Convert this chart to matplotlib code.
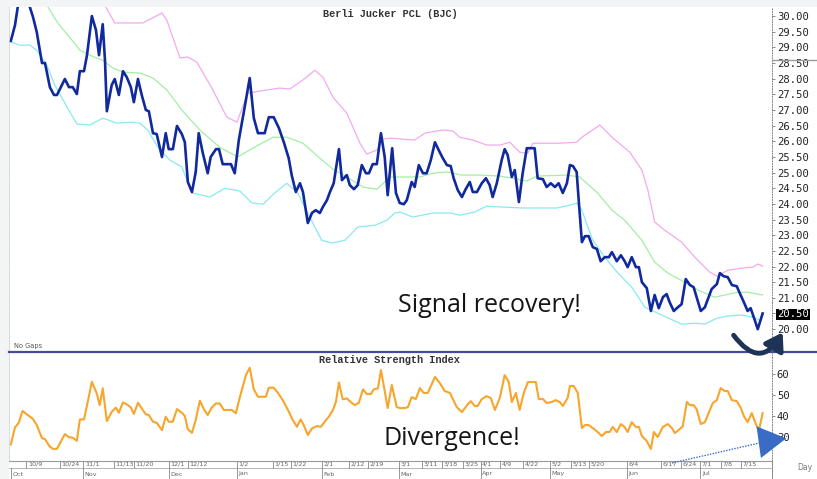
import matplotlib.pyplot as plt
import matplotlib.transforms as mtransforms
from matplotlib.lines import Line2D
from matplotlib.patches import Rectangle, FancyArrowPatch, ArrowStyle

# bar number (trading session) and close price
price_s = [0.0, 1.1, 2.1, 4.5, 5.9, 6.9, 8.3, 9.1, 10.4, 11.5, 12.3, 14.4, 15.5, 16.5, 17.6, 18.4,
           19.5, 20.3, 21.6, 22.7, 23.5, 24.5, 25.1, 25.6, 26.9, 27.7, 28.8, 29.9, 30.9, 32.0, 32.8,
           33.9, 34.9, 36.0, 36.8, 37.9, 38.9, 40.3, 41.3, 42.1, 43.2, 44.3, 45.6, 46.4, 47.2, 48.3,
           49.3, 50.1, 51.2, 52.5, 53.3, 54.7, 55.5, 56.5, 57.6, 58.7, 59.7, 60.8, 62.4, 63.7, 64.8,
           65.9, 67.7, 68.8, 70.1, 71.5, 72.8, 74.1, 74.9, 76.0, 77.1, 77.9, 79.2, 80.3, 81.3, 82.4,
           83.2, 84.3, 85.1, 86.1, 87.5, 88.3, 89.6, 90.4, 91.5, 92.5, 93.6, 94.7, 95.5, 96.5, 97.6,
           98.7, 99.7, 100.5, 101.7, 102.7, 103.7, 104.8, 105.6, 106.9, 107.7, 108.8, 109.9, 110.9,
           112.0, 113.1, 114.1, 115.2, 116.3, 117.3, 118.1, 119.2, 120.3, 121.3, 122.4, 123.2, 124.3,
           125.6, 126.7, 127.7, 128.5, 129.6, 130.9, 131.7, 132.5, 133.6, 134.4, 135.5, 136.5, 137.6,
           139.7, 140.5, 141.9, 142.9, 144.0, 145.1, 146.1, 147.2, 148.3, 149.1, 149.9, 150.9, 151.5,
           152.3, 153.1, 154.1, 155.2, 156.3, 157.3, 158.4, 159.5, 160.3, 161.6, 162.7, 163.7, 164.5,
           165.6, 166.7, 167.5, 168.3, 169.6, 170.7, 171.7, 172.8, 173.9, 174.9, 175.7, 176.8, 177.9,
           178.9, 180.0, 181.1, 182.1, 184.0, 185.1, 185.9, 186.9, 188.3, 189.1, 190.1, 191.2, 192.3,
           193.6, 194.4, 195.5, 196.5, 197.3, 198.4, 199.2, 200.5]
price_v = [29.21, 29.71, 30.5, 30.5, 29.97, 29.49, 28.50, 28.50, 27.73, 27.48, 27.48, 27.99, 27.73,
           27.73, 27.51, 28.24, 28.24, 28.75, 30.0, 29.55, 28.75, 29.74, 28.59, 26.96, 27.80, 27.99,
           27.48, 28.24, 28.05, 27.73, 27.25, 27.99, 27.48, 27.0, 26.96, 26.26, 26.23, 25.50, 26.26,
           25.75, 25.75, 26.49, 26.23, 25.97, 24.70, 24.38, 25.02, 26.26, 25.62, 24.98, 25.50, 25.75,
           25.75, 25.27, 25.27, 25.27, 24.98, 26.04, 27.12, 28.02, 26.74, 26.26, 26.26, 26.77, 26.77,
           26.42, 25.97, 25.46, 24.92, 24.38, 24.66, 24.38, 23.39, 23.71, 23.80, 23.71, 23.90, 24.12,
           24.38, 24.66, 25.75, 24.76, 24.92, 24.60, 24.47, 24.60, 25.24, 24.98, 24.98, 25.27, 25.27,
           26.26, 25.50, 24.28, 25.78, 24.35, 24.03, 23.99, 24.12, 24.70, 24.54, 25.24, 24.98, 24.98,
           25.40, 25.97, 25.72, 25.46, 25.24, 25.21, 24.82, 24.44, 24.22, 24.47, 24.70, 24.38, 24.38,
           24.66, 24.82, 24.60, 24.22, 24.66, 25.40, 25.75, 25.56, 24.86, 25.08, 24.06, 24.98, 25.78,
           25.78, 24.82, 24.79, 24.54, 24.66, 24.54, 24.66, 24.35, 24.66, 25.24, 25.21, 25.02, 24.03,
           22.78, 22.97, 22.97, 22.62, 22.56, 22.17, 22.30, 22.30, 22.46, 22.17, 22.36, 22.17, 21.98,
           22.30, 21.98, 21.98, 21.50, 21.31, 20.58, 21.09, 20.67, 21.02, 21.12, 20.86, 20.58, 20.70,
           20.80, 21.60, 21.41, 21.34, 20.58, 20.70, 20.96, 21.28, 21.44, 21.79, 21.69, 21.66, 21.41,
           21.37, 21.15, 20.86, 20.58, 20.67, 20.29, 20.00, 20.50]

# bollinger bands
upper_s = [23.7, 25.3, 27.7, 35.2, 40.3, 41.6, 45.1, 47.2, 49.6, 53.6, 57.6, 60.3, 63.2, 68.3, 71.7,
           74.4, 77.9, 81.1, 83.2, 85.9, 89.6, 93.1, 94.9, 97.6, 99.2, 101.1, 107.7, 110.4, 115.2,
           117.9, 119.7, 123.2, 126.9, 130.4, 133.1, 135.7, 137.9, 139.2, 146.4, 150.9, 152.3, 157.1,
           160.3, 165.1, 168.3, 169.9, 171.7, 174.4, 178.9, 182.4, 186.4, 188.3, 191.2, 194.9, 197.9,
           199.2, 200.5]
upper_v = [30.67, 30.29, 29.78, 29.78, 30.10, 29.87, 28.66, 28.69, 28.53, 27.70, 26.77, 26.61, 27.54,
           27.64, 27.70, 27.67, 27.96, 28.27, 28.05, 27.41, 26.90, 25.94, 25.59, 25.72, 26.07, 26.10,
           26.04, 26.26, 26.36, 26.33, 26.13, 26.04, 25.88, 25.88, 25.97, 25.65, 25.62, 25.94, 25.94,
           25.97, 26.13, 26.52, 26.13, 25.65, 25.08, 24.44, 23.42, 23.16, 22.78, 22.30, 21.82, 21.69,
           21.88, 21.95, 21.98, 22.08, 22.01]
mid_s = [7.7, 9.9, 12.5, 16.3, 18.4, 21.6, 24.5, 27.2, 29.9, 34.4, 37.9, 41.6, 45.6, 50.4, 55.7, 60.5,
         64.5, 69.9, 73.6, 77.9, 82.4, 85.9, 89.6, 93.9, 97.6, 101.1, 109.1, 112.5, 116.3, 120.3,
         125.1, 130.4, 133.9, 137.6, 140.3, 148.3, 151.7, 156.5, 160.3, 163.7, 168.3, 171.7, 175.2,
         179.7, 183.2, 187.7, 190.4, 193.9, 196.5, 200.5]
mid_v = [30.67, 30.29, 29.78, 29.23, 28.91, 28.72, 28.59, 28.34, 28.21, 28.18, 28.02, 27.64, 27.00,
         26.36, 25.81, 25.50, 25.78, 26.13, 26.13, 25.94, 25.46, 25.11, 24.86, 24.54, 24.47, 24.86,
         24.86, 24.98, 25.02, 24.92, 24.92, 24.89, 24.82, 24.73, 24.89, 24.92, 24.86, 24.35, 23.80,
         23.48, 22.84, 22.14, 21.79, 21.50, 21.25, 21.02, 21.09, 21.18, 21.18, 21.09]
lower_s = [0.0, 2.4, 5.1, 6.9, 9.6, 11.7, 14.4, 17.6, 21.1, 24.5, 28.3, 32.3, 34.4, 36.5, 39.2, 42.4,
           45.6, 48.3, 53.1, 57.1, 61.1, 64.3, 67.2, 70.4, 73.6, 76.5, 79.7, 82.9, 85.6, 89.1, 92.5,
           97.1, 100.3, 102.4, 103.7, 107.2, 112.5, 117.1, 119.7, 123.7, 126.9, 131.2, 136.5, 145.6,
           149.1, 150.9, 152.3, 153.9, 155.2, 158.4, 161.9, 165.6, 169.1, 173.6, 178.9, 182.4, 185.1,
           188.3, 191.2, 194.9, 197.9, 199.7]
lower_v = [29.17, 29.07, 29.07, 28.91, 28.43, 27.80, 27.22, 26.55, 26.52, 26.74, 26.58, 26.61, 26.58,
           26.36, 25.81, 25.40, 25.18, 24.35, 24.22, 24.50, 24.41, 24.03, 23.99, 24.35, 24.66, 24.35,
           23.58, 22.84, 22.75, 22.84, 23.26, 23.32, 23.48, 23.71, 23.74, 23.58, 23.71, 23.71, 23.64,
           23.74, 23.93, 23.90, 23.87, 23.87, 23.96, 24.03, 23.80, 23.26, 22.84, 22.30, 21.79, 21.34,
           20.70, 20.45, 20.16, 20.19, 20.16, 20.35, 20.42, 20.45, 20.38, 20.29]

# relative strength index
rsi_s = [0.0, 1.1, 2.1, 3.1, 4.5, 5.9, 6.9, 8.3, 9.1, 10.4, 11.2, 12.3, 14.4, 15.5, 16.5, 17.6, 18.4,
         19.5, 20.5, 21.6, 22.9, 23.7, 24.5, 25.6, 26.9, 28.0, 28.8, 29.9, 30.9, 32.0, 32.8, 33.9,
         34.9, 36.0, 36.8, 37.9, 38.9, 40.3, 41.3, 42.1, 43.2, 44.3, 45.6, 46.4, 47.2, 48.3, 49.3,
         50.4, 51.5, 52.5, 53.6, 54.7, 55.7, 56.8, 57.9, 58.9, 60.0, 61.1, 62.7, 63.7, 64.8, 65.9,
         68.0, 68.8, 70.1, 71.2, 72.5, 73.9, 75.2, 76.3, 77.3, 78.1, 79.2, 80.3, 81.6, 82.7, 83.7,
         84.8, 85.9, 86.7, 87.5, 88.5, 89.6, 90.9, 91.7, 92.8, 93.9, 94.9, 96.0, 96.8, 97.9, 98.7,
         99.5, 100.5, 101.6, 102.9, 103.7, 105.1, 105.9, 106.9, 108.0, 109.1, 110.1, 111.2, 113.1,
         114.4, 115.7, 117.1, 118.9, 120.3, 121.9, 122.7, 123.7, 124.5, 125.6, 126.9, 128.0, 129.1,
         130.4, 131.7, 132.8, 133.6, 134.7, 135.7, 136.8, 137.9, 140.0, 140.8, 141.9, 142.9, 144.3,
         145.3, 146.4, 147.2, 148.5, 149.1, 150.1, 151.2, 152.3, 153.1, 154.1, 155.2, 156.5, 157.6,
         158.7, 159.7, 160.5, 161.6, 162.7, 163.7, 164.5, 165.6, 166.7, 167.5, 168.3, 169.6, 170.7,
         171.5, 172.5, 173.9, 175.2, 176.3, 177.1, 178.1, 179.2, 180.3, 181.1, 182.1, 182.9, 184.0,
         185.1, 186.1, 187.2, 188.3, 189.3, 190.4, 191.2, 192.3, 193.6, 194.7, 195.5, 196.5, 197.6,
         198.7, 199.5, 200.5]
rsi_v = [26.5, 34.6, 36.8, 42.4, 40.5, 38.6, 35.7, 29.5, 29.0, 25.4, 24.4, 24.4, 31.4, 29.9, 29.7,
         28.2, 38.4, 38.4, 46.8, 56.3, 50.8, 45.2, 53.2, 37.6, 42.0, 44.0, 41.6, 46.5, 45.6, 44.1,
         41.0, 46.3, 43.7, 40.8, 40.5, 37.3, 36.8, 33.3, 39.7, 37.3, 37.3, 43.3, 41.6, 40.0, 33.7,
         32.0, 38.1, 47.3, 43.2, 40.5, 44.1, 46.0, 46.0, 42.9, 42.9, 42.9, 41.3, 49.2, 59.5, 63.0,
         52.7, 49.2, 49.2, 53.5, 53.5, 51.1, 47.6, 42.9, 38.1, 34.9, 38.4, 35.7, 31.0, 34.1, 35.2,
         34.9, 37.3, 39.7, 42.9, 46.8, 56.0, 48.0, 48.4, 46.3, 45.2, 46.3, 52.7, 50.5, 50.5, 52.7,
         53.2, 61.9, 54.0, 43.8, 54.8, 44.3, 43.8, 43.8, 44.3, 49.0, 48.1, 53.3, 51.0, 51.0, 58.6,
         55.7, 51.9, 51.0, 44.3, 41.9, 45.7, 47.1, 44.8, 44.8, 48.1, 49.5, 48.6, 42.9, 48.6, 59.5,
         56.2, 46.7, 51.0, 42.9, 51.0, 56.2, 56.2, 48.1, 48.1, 46.2, 46.7, 47.6, 46.7, 44.8, 48.6,
         54.3, 54.3, 51.0, 34.3, 35.7, 35.7, 34.3, 32.4, 30.5, 32.4, 32.4, 34.8, 32.4, 36.2, 34.8,
         32.4, 37.1, 34.8, 34.8, 30.5, 28.1, 24.3, 32.4, 30.0, 34.8, 36.2, 34.3, 31.9, 33.3, 35.2,
         46.7, 45.2, 45.2, 43.3, 36.2, 37.1, 41.4, 46.2, 47.6, 53.3, 51.9, 51.9, 47.6, 47.1, 43.8,
         40.0, 37.1, 41.4, 36.2, 32.9, 41.4]

price_ticks = [20.0, 20.5, 21.0, 21.5, 22.0, 22.5, 23.0, 23.5, 24.0, 24.5, 25.0, 25.5, 26.0, 26.5,
               27.0, 27.5, 28.0, 28.5, 29.0, 29.5, 30.0]
rsi_ticks = [30, 40, 50, 60]
last_price = 20.50

day_ticks = [4.1, 13.1, 19.3, 27.5, 32.8, 42.1, 47.3, 60.3, 69.8, 74.7, 82.9, 90.2, 95.3, 103.6,
             109.7, 115.0, 120.6, 125.3, 130.4, 136.6, 143.7, 149.5, 154.2, 164.2, 173.3, 178.7,
             183.9, 189.5, 194.8]
day_labels = ['10/9', '10/24', '11/1', '11/13', '11/20', '12/1', '12/12', '1/2', '1/15', '1/22',
              '2/1', '2/12', '2/19', '3/1', '3/11', '3/18', '3/25', '4/1', '4/9', '4/22', '5/2',
              '5/13', '5/20', '6/4', '6/17', '6/24', '7/1', '7/8', '7/15']
month_ticks = [0.0, 19.3, 42.1, 60.3, 82.9, 103.6, 125.3, 143.7, 164.2, 183.9]
month_labels = ['Oct', 'Nov', 'Dec', 'Jan', 'Feb', 'Mar', 'Apr', 'May', 'Jun', 'Jul']

W, H = 817, 479


def fx(px):
    return px / W


def fy(py):
    return 1 - py / H


fig = plt.figure(figsize=(8.17, 4.79), dpi=100)
fig.patch.set_facecolor('white')
fig.add_artist(Rectangle((0, fy(7)), 1, 1 - fy(7), transform=fig.transFigure,
                         facecolor='#f3f4f6', edgecolor='none', zorder=0))
fig.add_artist(Rectangle((0, 0), fx(9), 1, transform=fig.transFigure,
                         facecolor='#f3f4f6', edgecolor='none', zorder=0))

ax1 = fig.add_axes([fx(9), fy(352), fx(772) - fx(9), fy(7) - fy(352)])
ax2 = fig.add_axes([fx(9), fy(461), fx(772) - fx(9), fy(352) - fy(461)])

ax1.plot(upper_s, upper_v, color='#f3a9ef', lw=0.9)
ax1.plot(mid_s, mid_v, color='#a3efa3', lw=0.9)
ax1.plot(lower_s, lower_v, color='#8ae8f2', lw=0.9)
ax1.plot(price_s, price_v, color='#10299c', lw=1.9, solid_joinstyle='round')
ax1.set_xlim(-0.5, 203)
ax1.set_ylim(19.27, 30.29)

ax2.plot(rsi_s, rsi_v, color='#f7a52b', lw=1.5, solid_joinstyle='round')
ax2.set_xlim(-0.5, 203)
ax2.set_ylim(18.6, 70.5)

for ax, ticks, fmt in [(ax1, price_ticks, '%.2f'), (ax2, rsi_ticks, '%d')]:
    ax.set_facecolor('none')
    ax.set_xticks([])
    ax.yaxis.tick_right()
    ax.set_yticks(ticks)
    ax.set_yticklabels([fmt % t for t in ticks])
    ax.tick_params(axis='y', length=2, width=0.6, color='#777', labelsize=7.6, pad=1.5,
                   labelcolor='#222', labelfontfamily='DejaVu Sans Mono')
    ax.spines['top'].set_visible(False)
    ax.spines['left'].set_linestyle(':')
    ax.spines['left'].set_color('#c8c8c8')
    ax.spines['left'].set_linewidth(0.6)
    ax.spines['right'].set_linestyle(':')
    ax.spines['right'].set_color('#888')
    ax.spines['right'].set_linewidth(0.7)
ax1.spines['bottom'].set_visible(False)
ax2.spines['bottom'].set_color('#9a9a9a')
ax2.spines['bottom'].set_linewidth(0.8)

for lbl in ax1.get_yticklabels():
    if lbl.get_text() == '%.2f' % last_price:
        lbl.set_color('white')
        lbl.set_bbox(dict(facecolor='black', edgecolor='none', pad=0.6))

# panel separator and small frame pieces
fig.add_artist(Line2D([fx(9), 1], [fy(352), fy(352)], color='#464b9b', lw=1.6))
fig.add_artist(Line2D([fx(772), fx(772)], [fy(461), 0], color='#888', lw=0.7))
fig.add_artist(Line2D([fx(9), fx(772)], [fy(468), fy(468)], color='#aaaaaa', lw=0.6))
fig.add_artist(Line2D([fx(773), 1], [fy(59.5), fy(59.5)], color='#9a9a9a', lw=1.0))

fig.text(fx(390), fy(14), 'Berli Jucker PCL (BJC)', ha='center', va='center',
         family='Liberation Mono', weight='bold', size=7.4, color='#333')
fig.text(fx(389), fy(360), 'Relative Strength Index', ha='center', va='center',
         family='Liberation Mono', weight='bold', size=7.4, color='#333')
fig.text(fx(14), fy(346), 'No Gaps', ha='left', va='center', size=4.8, color='#555')
fig.text(fx(805), fy(467), 'Day', ha='center', va='center', size=5.5, color='#777')

# date axis under the RSI panel
blend = mtransforms.blended_transform_factory(ax2.transData, fig.transFigure)
lab_tr = mtransforms.offset_copy(blend, fig=fig, x=1.5, y=0, units='dots')
for s, lab in zip(day_ticks, day_labels):
    fig.add_artist(Line2D([s, s], [fy(461), fy(468)], transform=blend, color='#888', lw=0.6))
    fig.text(s, fy(464.5), lab, transform=lab_tr, ha='left', va='center', size=4.6, color='#666')
for s, lab in zip(month_ticks, month_labels):
    fig.add_artist(Line2D([s, s], [fy(468), 0], transform=blend, color='#888', lw=0.6))
    fig.text(s, fy(474), lab, transform=lab_tr, ha='left', va='center', size=4.6, color='#666')

# annotations
fig.text(fx(398), fy(312), 'Signal recovery!', ha='left', va='baseline',
         family='Open Sans', size=18, color='#151515')
fig.text(fx(383), fy(445), 'Divergence!', ha='left', va='baseline',
         family='Open Sans', size=18, color='#151515')

curve = FancyArrowPatch((fx(732), fy(333)), (fx(784), fy(330)), transform=fig.transFigure,
                        connectionstyle='arc3,rad=0.8',
                        arrowstyle=ArrowStyle('-|>', head_length=10, head_width=6.5),
                        color='#1d3456', lw=3.5, mutation_scale=1, zorder=5)
fig.add_artist(curve)

fig.add_artist(Line2D([fx(672), fx(768)], [fy(463), fy(441)], color='#3a6cc6', lw=1.0,
                      linestyle=(0, (1, 1))))
head = FancyArrowPatch((fx(760), fy(442)), (fx(789), fy(438)), transform=fig.transFigure,
                       arrowstyle=ArrowStyle('-|>', head_length=20, head_width=11.5),
                       color='#3a6cc6', lw=0, mutation_scale=1, zorder=5)
fig.add_artist(head)

fig.savefig('out.png', dpi=100)
